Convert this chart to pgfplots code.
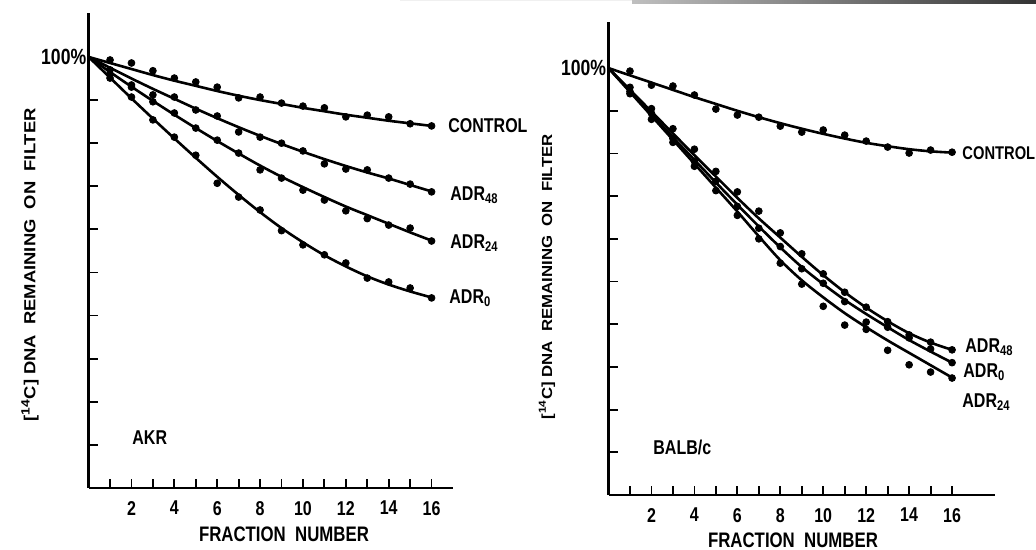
\documentclass[border=0pt]{standalone}
\usepackage{fontspec}
\setmainfont{Liberation Sans}[FakeStretch=0.8]
\newfontfamily\widefont{Liberation Sans}[FakeStretch=1.15]
\usepackage{pgfplots}
\pgfplotsset{compat=1.18}
\newcommand\fs[1]{\fontsize{#1}{#1}\selectfont}

% curves through the points, f = 0..16
\pgfplotstableread{
f  ctl   a48   a24   a0
0  100   100   100   100
1  98.6  97.5  96.5  95.2
2  97.2  95.0  93.1  90.4
3  95.8  92.6  89.8  85.7
4  94.5  90.3  86.6  81.1
5  93.3  88.0  83.5  76.6
6  92.1  85.8  80.5  72.2
7  91.0  83.7  77.6  68.0
8  90.0  81.7  74.8  64.0
9  89.1  79.8  72.2  60.3
10 88.2  78.0  69.8  57.0
11 87.4  76.3  67.5  54.0
12 86.6  74.7  65.3  51.4
13 85.9  73.2  63.3  49.1
14 85.2  71.8  61.3  47.2
15 84.6  70.3  59.3  45.6
16 84.0  68.8  57.4  44.2
}\akrfit
\pgfplotstableread{
f  ctl   a48   a24   a0
1  99.3  97.0  96.0  95.1
2  98.6  93.5  93.0  90.7
3  96.8  91.2  89.6  85.4
4  95.1  90.7  87.0  81.4
5  94.2  87.7  83.5  77.2
6  93.0  86.3  80.7  70.7
7  90.5  82.6  77.7  67.5
8  90.7  81.4  73.8  64.5
9  89.3  80.0  71.9  59.7
10 88.6  78.2  69.1  56.4
11 88.2  75.2  66.8  54.1
12 86.1  74.0  64.3  52.2
13 86.5  73.8  62.5  48.7
14 86.1  71.9  61.0  47.8
15 84.5  70.5  60.3  46.4
16 84.0  68.7  57.3  44.1
}\akrpts
\pgfplotstableread{
f  ctl   a48   a24   a0
0  100   100   100   100
1  98.3  94.9  94.4  94.6
2  96.6  89.8  88.8  89.2
3  94.9  84.7  83.2  83.8
4  93.2  79.6  77.6  78.5
5  91.6  74.6  72.0  73.2
6  90.0  69.6  66.4  68.0
7  88.5  64.8  60.6  62.9
8  87.1  60.3  55.0  58.0
9  85.8  55.8  50.3  53.4
10 84.6  51.5  46.3  49.4
11 83.5  47.5  42.6  45.7
12 82.5  43.9  39.3  42.4
13 81.7  40.7  36.2  39.3
14 81.0  37.9  33.3  36.3
15 80.5  35.7  30.4  33.6
16 80.2  34.0  27.5  31.0
}\balbfit
\pgfplotstableread{
f  ctl   a48   a24   a0
1  99.3  95.5  94.0  94.5
2  96.0  90.5  88.0  89.4
3  95.8  85.8  82.6  83.5
4  93.7  81.0  77.0  78.2
5  90.4  75.8  71.3  73.5
6  89.0  71.0  65.5  67.6
7  88.5  66.5  60.0  62.5
8  86.4  61.4  54.3  58.2
9  85.0  56.5  49.4  53.0
10 85.5  51.8  44.2  49.6
11 84.3  47.5  39.8  45.3
12 82.9  44.0  38.8  40.5
13 81.5  40.6  33.9  39.3
14 80.1  37.5  30.5  36.8
15 80.8  35.8  28.8  34.2
16 80.3  34.0  27.4  31.0
}\balbpts

\pgfplotsset{
  panel/.style={
    scale only axis, clip=false, anchor=south west,
    axis x line=bottom, axis y line=left,
    axis line style={-, line width=1.2pt},
    xmin=0, ymin=0,
    tick align=inside, major tick length=4.5pt,
    tick style={line width=0.9pt, black},
    xtick={1,...,16},
    xticklabels={,2,,4,,6,,8,,10,,12,,14,,16},
    xticklabel style={font=\bfseries\fs{10}, yshift=-3pt},
    ytick={10,20,...,90}, yticklabels={,,,,,,,,},
    extra y ticks={100}, extra y tick labels={100\%},
    extra y tick style={major tick length=0pt, yticklabel style={font=\bfseries\fs{11}, inner sep=1pt}},
  },
  fit/.style={line width=1.3pt, black, smooth, no marks},
  pts/.style={only marks, mark=*, mark size=1.7pt, black},
}

\begin{document}
\begin{tikzpicture}[every node/.style={font=\bfseries\fs{10}}]
\path[use as bounding box] (0,0) rectangle (518pt,275pt);
\fill[black!6] (200pt,274.5pt) rectangle (316pt,275pt);
\shade[left color=black!25, right color=black!80] (316pt,273.2pt) rectangle (518pt,275pt);

\begin{axis}[panel, at={(44.3pt,31pt)}, width=182.2pt, height=237.5pt,
  xmax=17, ymax=110.2]
\addplot[fit] table[x=f,y=ctl] {\akrfit};
\addplot[fit] table[x=f,y=a48] {\akrfit};
\addplot[fit] table[x=f,y=a24] {\akrfit};
\addplot[fit] table[x=f,y=a0] {\akrfit};
\addplot[pts] table[x=f,y=ctl] {\akrpts};
\addplot[pts] table[x=f,y=a48] {\akrpts};
\addplot[pts] table[x=f,y=a24] {\akrpts};
\addplot[pts] table[x=f,y=a0] {\akrpts};
\end{axis}

\begin{axis}[panel, at={(304.25pt,27.5pt)}, width=193.25pt, height=236.5pt,
  xmax=18, ymax=110.8]
\addplot[fit] table[x=f,y=ctl] {\balbfit};
\addplot[fit] table[x=f,y=a48] {\balbfit};
\addplot[fit] table[x=f,y=a24] {\balbfit};
\addplot[fit] table[x=f,y=a0] {\balbfit};
\addplot[pts] table[x=f,y=ctl] {\balbpts};
\addplot[pts] table[x=f,y=a48] {\balbpts};
\addplot[pts] table[x=f,y=a24] {\balbpts};
\addplot[pts] table[x=f,y=a0] {\balbpts};
\end{axis}

% left panel labels
\node[anchor=west, inner sep=0pt] at (224pt,212pt) {CONTROL};
\node[anchor=west, inner sep=0pt] at (225pt,177.5pt) {ADR\textsubscript{48}};
\node[anchor=west, inner sep=0pt] at (225pt,153.5pt) {ADR\textsubscript{24}};
\node[anchor=west, inner sep=0pt] at (224.5pt,126pt) {ADR\textsubscript{0}};
\node[anchor=west, inner sep=0pt] at (66pt,56pt) {AKR};
\node[inner sep=0pt, font=\bfseries\fs{10.5}] at (142pt,8pt) {FRACTION \ NUMBER};
\node[rotate=90, inner sep=0pt, font=\widefont\bfseries\fs{8}] at (15pt,142.5pt)
  {[\textsuperscript{14}C] DNA \ REMAINING \ ON \ FILTER};

% right panel labels
\node[anchor=west, inner sep=0pt, font=\bfseries\fs{9.2}] at (481pt,198.5pt) {CONTROL};
\node[anchor=west, inner sep=0pt] at (482.5pt,101.5pt) {ADR\textsubscript{48}};
\node[anchor=west, inner sep=0pt] at (481.5pt,89pt) {ADR\textsubscript{0}};
\node[anchor=west, inner sep=0pt] at (481pt,74pt) {ADR\textsubscript{24}};
\node[anchor=west, inner sep=0pt] at (326.5pt,51.5pt) {BALB/c};
\node[inner sep=0pt, font=\bfseries\fs{10.5}] at (396.5pt,5pt) {FRACTION \ NUMBER};
\node[rotate=90, inner sep=0pt, font=\widefont\bfseries\fs{7.3}] at (273.5pt,136.5pt)
  {[\textsuperscript{14}C] DNA \ REMAINING \ ON \ FILTER};
\end{tikzpicture}
\end{document}
